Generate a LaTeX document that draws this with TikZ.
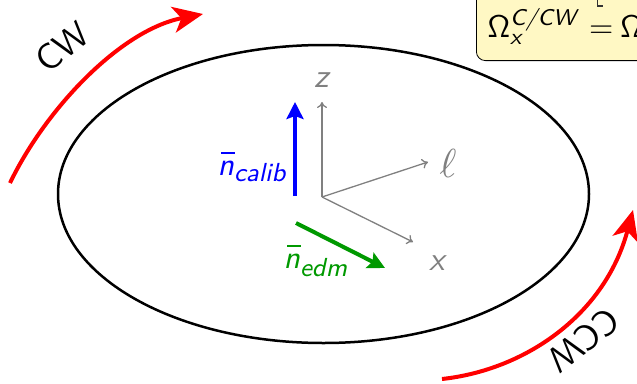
\documentclass[tikz,border=0pt]{standalone}
\usetikzlibrary{arrows.meta}
\definecolor{boxyellow}{RGB}{255,248,196}
\definecolor{edmgreen}{RGB}{0,153,0}
\newcommand\fsz[1]{\fontsize{#1}{#1}\selectfont}
\newcommand\nbarsym{\makebox[0pt][l]{\hspace{1.3pt}\raisebox{7.4pt}{\rule{4.6pt}{0.7pt}}}{\itshape n}}
\begin{document}
\begin{tikzpicture}[x=1pt,y=-1pt,
  font=\sffamily\fsz{10.95},
  redarr/.style={red, line width=4pt, -{Stealth[length=30pt,width=26pt,inset=8pt]}},
  vecarr/.style={line width=4pt, -{Stealth[length=17pt,width=17pt,inset=3pt]}},
  axisarr/.style={gray, line width=1.3pt, -{To[length=6pt,width=10pt]}},
  axlabel/.style={gray, inner sep=0pt, scale=3.05, font=\sffamily\itshape\fsz{10.95}},
  lbl/.style={inner sep=0pt, scale=2.9},
  rotlbl/.style={inner sep=0pt, scale=3.3, font=\sffamily\fsz{10.95}}]
\useasboundingbox (0,0) rectangle (637,383);
\clip (0,0) rectangle (637,383);
% ring
\draw[line width=2.5pt] (323.5,194) ellipse [x radius=265.5, y radius=149];
% formula box (cut off)
\node[draw, line width=0.8pt, fill=boxyellow, rounded corners=9pt, anchor=south west,
  minimum width=300pt, minimum height=140pt] (box) at (476,61) {};
\node[lbl, scale=2.85/2.9, anchor=base west] (omega) at (487,37)
  {Ω\rlap{\raisebox{-2.8pt}{\fsz{8}\itshape x}}\raisebox{4.2pt}{\fsz{8}\itshape C/CW}\hspace{4.6pt}=\hspace{2.4pt}Ω};
\coordinate (brA) at (597.5,0);
\coordinate (brB) at (597.5,6);
\coordinate (brC) at (603,6);
\draw[line width=1.6pt, black!80] (brA) -- (brB) -- (brC);
% axes
\coordinate (O) at (322,197);
\coordinate (zt) at (322,102);
\coordinate (lt) at (428,162);
\coordinate (xt) at (413,242);
\draw[axisarr] (O) -- (zt);
\draw[axisarr] (O) -- (lt);
\draw[axisarr] (O) -- (xt);
\node[axlabel] (zl) at (322,80) {z};
\node[axlabel, scale=3.7/3.05] (ll) at (448,163) {$\ell$};
\node[axlabel] (xl) at (437,263) {x};
% calibration vector
\coordinate (cb) at (295,196);
\coordinate (ct) at (295,102);
\draw[vecarr, blue] (cb) -- (ct);
\node[lbl, blue, anchor=base west] (ncalib) at (217,175)
  {\nbarsym\raisebox{-2.4pt}{\fsz{9}\itshape calib}};
% edm vector
\coordinate (eb) at (296,223);
\coordinate (et) at (385,268);
\draw[vecarr, edmgreen] (eb) -- (et);
\node[lbl, edmgreen, anchor=base west] (nedm) at (283,268)
  {\nbarsym\raisebox{-3.1pt}{\fsz{9}\itshape edm}};
% CW arrow
\coordinate (cw0) at (10,183);
\coordinate (cw1) at (203,14);
\draw[redarr] (cw0) .. controls (45,110) and (120,30) .. (cw1);
\node[rotlbl, rotate=38] (cwl) at (62,47) {CW};
% CCW arrow
\coordinate (ccw0) at (442,379);
\coordinate (ccw1) at (633,210);
\draw[redarr] (ccw0) .. controls (525,370) and (605,315) .. (ccw1);
\node[rotlbl, rotate=218] (ccwl) at (584,340) {CCW};
\end{tikzpicture}
\end{document}
